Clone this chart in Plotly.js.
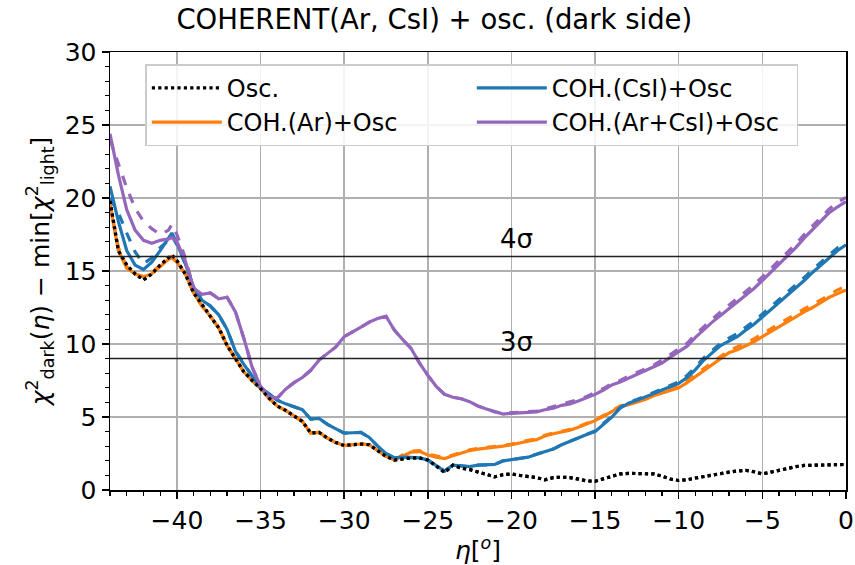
<!DOCTYPE html>
<html>
<head>
<meta charset="utf-8">
<script src="https://cdn.plot.ly/plotly-3.0.1.min.js"></script>
<style>html,body{margin:0;padding:0;background:#fff;}#chart{width:855px;height:565px;}</style>
</head>
<body>
<div id="chart"></div>
<script>
// eta in degrees
const eta = [-44,-43.5,-43,-42.5,-42,-41.5,-41,-40.5,-40.3,-40,-39.5,-39,-38.5,-38,-37.5,-37,-36.5,-36,-35.5,-35,
  -34.5,-34,-33.5,-33,-32.5,-32,-31.5,-31,-30.5,-30,-29.5,-29,-28.5,-28,-27.5,-27,-26.5,-26,-25.5,-25,
  -24.5,-24,-23.5,-23,-22.5,-22,-21.5,-21,-20.5,-20,-19.5,-19,-18.5,-18,-17.5,-17,-16.5,-16,-15.5,-15,
  -14.5,-14,-13.5,-13,-12.5,-12,-11.5,-11,-10.5,-10,-9.5,-9,-8.5,-8,-7.5,-7,-6.5,-6,-5.5,-5,
  -4.5,-4,-3.5,-3,-2.5,-2,-1.5,-1,-0.5,0];

const osc = [19.8,16.4,15.4,14.8,14.4,14.8,15.4,15.9,16.1,15.7,14.8,13.5,12.7,11.9,11.1,9.9,9.0,8.1,7.5,6.95,
  6.3,5.75,5.45,5.1,4.7,3.9,3.95,3.55,3.25,3.05,3.1,3.15,3.1,2.7,2.3,2.05,2.15,2.2,2.2,2.05,
  1.65,1.2,1.7,1.5,1.4,1.25,1.05,0.9,1.05,1.1,1.0,0.95,0.85,0.7,0.85,0.88,0.85,0.75,0.62,0.6,
  0.75,0.9,1.1,1.14,1.14,1.14,1.1,0.95,0.75,0.65,0.7,0.82,0.93,1.03,1.15,1.22,1.3,1.35,1.25,1.1,
  1.22,1.35,1.48,1.6,1.68,1.7,1.72,1.76,1.76,1.75];

const arSolid = [19.5,16.4,15.2,14.8,14.6,14.8,15.3,15.8,15.9,15.6,14.8,13.5,12.6,11.9,11.1,9.9,9.0,8.1,7.5,6.95,
  6.3,5.75,5.45,5.1,4.7,3.9,3.95,3.55,3.25,3.05,3.1,3.15,3.1,2.7,2.3,2.05,2.35,2.6,2.65,2.4,
  2.25,2.15,2.35,2.55,2.7,2.8,2.85,2.9,3.0,3.1,3.25,3.35,3.45,3.7,3.85,3.95,4.1,4.3,4.5,4.75,
  5.05,5.4,5.7,5.85,6.0,6.2,6.45,6.65,6.8,7.0,7.35,7.75,8.15,8.55,9.0,9.4,9.6,9.85,10.15,10.5,
  10.85,11.2,11.5,11.85,12.2,12.5,12.85,13.2,13.45,13.7];
const arDashed = [19.6,16.6,15.3,14.8,14.6,14.9,15.4,15.9,16.0,15.6,14.8,13.5,12.6,11.9,11.1,9.9,9.0,8.1,7.5,6.95,
  6.3,5.75,5.45,5.1,4.7,3.9,3.95,3.55,3.25,3.05,3.1,3.15,3.1,2.7,2.3,2.05,2.4,2.65,2.7,2.45,
  2.3,2.2,2.4,2.6,2.75,2.85,2.9,2.95,3.05,3.15,3.3,3.4,3.5,3.75,3.9,4.0,4.15,4.35,4.55,4.8,
  5.1,5.45,5.75,5.9,6.1,6.3,6.55,6.75,6.95,7.15,7.5,7.9,8.3,8.7,9.15,9.55,9.8,10.05,10.35,10.7,
  11.05,11.4,11.7,12.05,12.4,12.7,13.05,13.4,13.7,13.95];

const csiSolid = [20.8,18.4,16.4,15.4,15.1,15.6,16.4,17.3,17.6,16.9,15.5,13.9,13.0,12.6,12.0,11.0,9.5,8.6,7.8,7.0,
  6.6,6.15,5.9,5.7,5.5,4.85,4.9,4.5,4.2,3.9,3.92,3.95,3.6,3.0,2.5,2.2,2.25,2.25,2.2,2.05,
  1.7,1.3,1.7,1.65,1.6,1.7,1.7,1.75,2.0,2.1,2.15,2.25,2.45,2.6,2.8,3.1,3.35,3.55,3.8,4.0,
  4.5,5.0,5.6,5.95,6.15,6.35,6.6,6.85,7.05,7.3,7.7,8.25,8.9,9.4,9.9,10.2,10.5,10.95,11.35,11.85,
  12.35,12.85,13.3,13.85,14.35,14.9,15.4,15.9,16.4,16.8];
const csiDashed = [20.0,19.0,17.6,16.3,15.5,15.9,16.6,17.1,17.4,16.8,15.5,13.9,13.0,12.6,12.0,11.0,9.5,8.6,7.8,7.0,
  6.6,6.15,5.9,5.7,5.5,4.85,4.9,4.5,4.2,3.9,3.92,3.95,3.6,3.0,2.5,2.2,2.25,2.25,2.2,2.05,
  1.7,1.3,1.7,1.65,1.6,1.7,1.7,1.75,2.0,2.1,2.15,2.25,2.45,2.6,2.8,3.1,3.35,3.55,3.8,4.05,
  4.55,5.05,5.65,6.0,6.2,6.45,6.7,6.95,7.15,7.4,7.85,8.4,9.05,9.55,10.05,10.4,10.7,11.15,11.55,12.05,
  12.55,13.05,13.5,14.05,14.55,15.1,15.6,16.1,16.6,17.0];

const bothSolid = [24.4,21.6,19.2,17.8,17.1,16.9,17.1,17.2,17.3,17.0,15.7,13.8,13.4,13.5,13.1,13.2,12.2,10.4,8.4,7.1,
  6.4,6.3,6.9,7.35,7.7,8.2,8.9,9.35,9.8,10.5,10.8,11.15,11.5,11.75,11.9,10.95,10.3,9.7,8.7,7.85,
  7.1,6.55,6.35,6.25,6.05,5.75,5.55,5.35,5.2,5.25,5.3,5.3,5.35,5.5,5.6,5.8,5.9,6.1,6.3,6.55,
  6.85,7.2,7.4,7.65,7.9,8.15,8.4,8.7,9.1,9.45,9.85,10.45,11.0,11.5,11.95,12.4,12.85,13.3,13.8,14.35,
  14.9,15.45,16.0,16.6,17.25,17.85,18.4,19.0,19.4,19.75];
const bothDashed = [24.0,22.4,20.7,19.3,18.4,17.9,17.5,17.8,18.2,17.5,15.9,13.8,13.4,13.5,13.1,13.2,12.2,10.4,8.4,7.1,
  6.4,6.3,6.9,7.35,7.7,8.2,8.9,9.35,9.8,10.5,10.8,11.15,11.5,11.75,11.9,10.95,10.3,9.7,8.7,7.85,
  7.1,6.55,6.35,6.25,6.05,5.75,5.55,5.35,5.25,5.3,5.35,5.35,5.4,5.55,5.7,5.9,6.0,6.2,6.4,6.65,
  6.95,7.3,7.5,7.8,8.05,8.3,8.55,8.9,9.3,9.65,10.05,10.65,11.2,11.7,12.2,12.65,13.1,13.55,14.05,14.6,
  15.15,15.7,16.25,16.85,17.5,18.1,18.65,19.25,19.7,20.05];

const sigmaLevels = [9, 16];
const sigmaLabels = ['3σ', '4σ'];
const sigmaLabelEta = -19.7;

const C_OR = '#ff7f0e', C_BL = '#1f77b4', C_PU = '#9467bd';
const LW = 3.2;

const traces = [
  {x: eta, y: osc, name: 'Osc.', mode: 'lines', line: {color: '#000', width: LW, dash: 'dot'}, legendrank: 1},
  {x: eta, y: arDashed, mode: 'lines', line: {color: C_OR, width: LW, dash: 'dash'}, showlegend: false},
  {x: eta, y: arSolid, name: 'COH.(Ar)+Osc', mode: 'lines', line: {color: C_OR, width: LW}, legendrank: 3},
  {x: eta, y: csiDashed, mode: 'lines', line: {color: C_BL, width: LW, dash: 'dash'}, showlegend: false},
  {x: eta, y: csiSolid, name: 'COH.(CsI)+Osc', mode: 'lines', line: {color: C_BL, width: LW}, legendrank: 2},
  {x: eta, y: bothDashed, mode: 'lines', line: {color: C_PU, width: LW, dash: 'dash'}, showlegend: false},
  {x: eta, y: bothSolid, name: 'COH.(Ar+CsI)+Osc', mode: 'lines', line: {color: C_PU, width: LW}, legendrank: 4},
  {x: eta, y: osc, mode: 'lines', line: {color: '#000', width: LW, dash: 'dot'}, showlegend: false, hoverinfo: 'skip'}
];

const shapes = sigmaLevels.map(v => ({type: 'line', xref: 'paper', x0: 0, x1: 1, yref: 'y', y0: v, y1: v,
  line: {color: '#222', width: 1.5}, layer: 'above'}));
const annotations = sigmaLevels.map((v, i) => ({x: sigmaLabelEta, y: v, xref: 'x', yref: 'y', text: sigmaLabels[i],
  showarrow: false, yanchor: 'bottom', yshift: 0, font: {size: 26, color: '#000'}}));

const axisCommon = {
  showline: true, linecolor: '#000', linewidth: 1.5, mirror: true,
  ticks: 'outside', ticklen: 7, tickwidth: 1.5, tickcolor: '#000',
  showgrid: true, gridcolor: '#b0b0b0', gridwidth: 1.5, zeroline: false,
  tickfont: {size: 25, color: '#000'}
};

const layout = {
  width: 855, height: 565,
  margin: {l: 110, r: 9, t: 52, b: 75},
  paper_bgcolor: '#fff', plot_bgcolor: '#fff',
  font: {family: 'DejaVu Sans, sans-serif', color: '#000'},
  title: {text: 'COHERENT(Ar, CsI) + osc. (dark side)', font: {size: 27.5}, x: 0.508, xanchor: 'center', y: 0.965, yanchor: 'middle'},
  xaxis: Object.assign({}, axisCommon, {
    range: [-44, 0], dtick: 5, tick0: 0,
    minor: {dtick: 1, ticks: 'outside', ticklen: 4, tickwidth: 1.2, tickcolor: '#000', showgrid: false},
    title: {text: '<i>η</i>[<sup><i>o</i></sup>]', font: {size: 25}, standoff: 4}
  }),
  yaxis: Object.assign({}, axisCommon, {
    range: [0, 30], dtick: 5, tick0: 0,
    minor: {dtick: 1, ticks: 'outside', ticklen: 4, tickwidth: 1.2, tickcolor: '#000', showgrid: false},
    title: {text: '<i>χ</i><sup>2</sup><sub>dark</sub>(<i>η</i>) − min[<i>χ</i><sup>2</sup><sub>light</sub>]', font: {size: 25}, standoff: 8}
  }),
  legend: {
    orientation: 'h', x: 0.048, y: 0.972, xanchor: 'left', yanchor: 'top',
    entrywidth: 240, entrywidthmode: 'pixels', itemwidth: 70,
    bgcolor: 'rgba(255,255,255,0.85)', bordercolor: '#cccccc', borderwidth: 1.5,
    font: {size: 24, color: '#000'}, traceorder: 'normal', tracegroupgap: 0
  },
  shapes: shapes,
  annotations: annotations,
  showlegend: true
};

Plotly.newPlot('chart', traces, layout, {displayModeBar: false, staticPlot: true});
</script>
</body>
</html>
